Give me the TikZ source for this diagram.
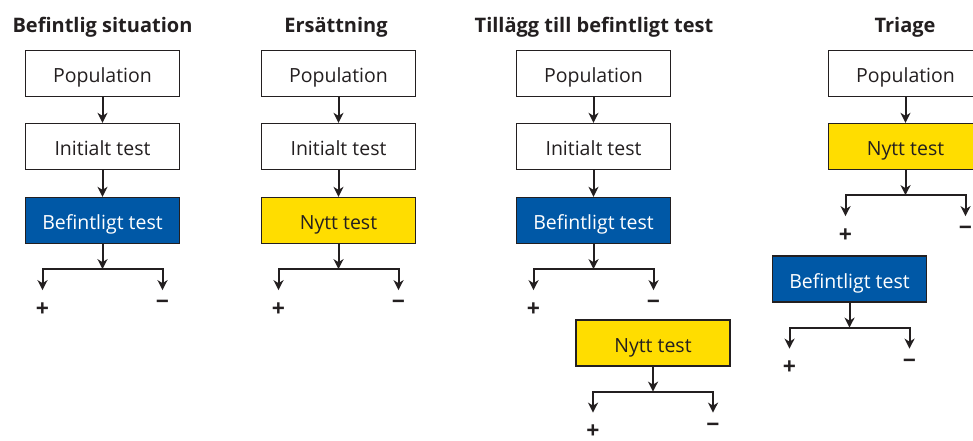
\documentclass[tikz,border=0pt]{standalone}
\usepackage{fontspec}
\setmainfont{Open Sans}
\usetikzlibrary{arrows.meta,calc}
\definecolor{myblue}{RGB}{0,88,166}
\definecolor{myyellow}{RGB}{255,221,0}
\definecolor{ink}{RGB}{35,31,32}
\newcommand\forkat[1]{%
  \coordinate (#1-c) at ($(#1.south)+(0,25)$);
  \coordinate (#1-l) at ($(#1-c)+(-60,0)$);
  \coordinate (#1-r) at ($(#1-c)+(60,0)$);
  \coordinate (#1-le) at ($(#1-l)+(0,21)$);
  \coordinate (#1-re) at ($(#1-r)+(0,21)$);
  \node[sign] (#1-plus) at ($(#1-l)+(0,40)$) {+};
  \node[sign] (#1-minus) at ($(#1-r)+(0,36)$) {−};
  \draw[arr] (#1) -- (#1-c);
  \draw[darr] (#1-le) -- (#1-l) -- (#1-r) -- (#1-re);
}
\begin{document}
\begin{tikzpicture}[x=1pt,y=-1pt,
  box/.style={draw=ink, line width=1.3pt, minimum width=154pt, minimum height=46pt,
    inner sep=0pt, text height=18pt, text depth=0pt,
    font=\fontsize{19.5}{21}\selectfont, text=ink, fill=white},
  bluebox/.style={box, fill=myblue, text=white},
  yellowbox/.style={box, fill=myyellow},
  title/.style={font=\bfseries\fontsize{20}{22}\selectfont, text=ink, inner sep=0pt},
  sign/.style={font=\bfseries\fontsize{23}{24}\selectfont, text=ink, inner sep=0pt},
  arr/.style={draw=ink, line width=2pt, -{Stealth[length=10pt,width=10pt,inset=3pt]}},
  darr/.style={draw=ink, line width=2pt, {Stealth[length=10pt,width=10pt,inset=3pt]}-{Stealth[length=10pt,width=10pt,inset=3pt]}},
]
\useasboundingbox (0,0) rectangle (973,441);
\clip (0,0) rectangle (973,441);
% column 1
\node[title] (t1) at (102.5,27) {Befintlig situation};
\node[box] (pop1) at (102.5,73.5) {Population};
\node[box] (init1) at (102.5,146.5) {Initialt test};
\node[bluebox] (bef1) at (102.5,220.5) {Befintligt test};
\draw[arr] (pop1) -- (init1);
\draw[arr] (init1) -- (bef1);
\forkat{bef1}
% column 2
\node[title] (t2) at (336,27) {Ersättning};
\node[box] (pop2) at (338.5,73.5) {Population};
\node[box] (init2) at (338.5,146.5) {Initialt test};
\node[yellowbox] (nytt2) at (338.5,220.5) {Nytt test};
\draw[arr] (pop2) -- (init2);
\draw[arr] (init2) -- (nytt2);
\forkat{nytt2}
% column 3
\node[title] (t3) at (594,27) {Tillägg till befintligt test};
\node[box] (pop3) at (593.5,73.5) {Population};
\node[box] (init3) at (593.5,146.5) {Initialt test};
\node[bluebox] (bef3) at (593.5,220.5) {Befintligt test};
\draw[arr] (pop3) -- (init3);
\draw[arr] (init3) -- (bef3);
\forkat{bef3}
\node[yellowbox] (nytt3) at (653,343) {Nytt test};
\forkat{nytt3}
% column 4
\node[title] (t4) at (905,27) {Triage};
\node[box] (pop4) at (905.5,73.5) {Population};
\node[yellowbox] (nytt4) at (905.5,146.5) {Nytt test};
\draw[arr] (pop4) -- (nytt4);
\forkat{nytt4}
\node[bluebox] (bef4) at (849.5,279) {Befintligt test};
\forkat{bef4}
\end{tikzpicture}
\end{document}
